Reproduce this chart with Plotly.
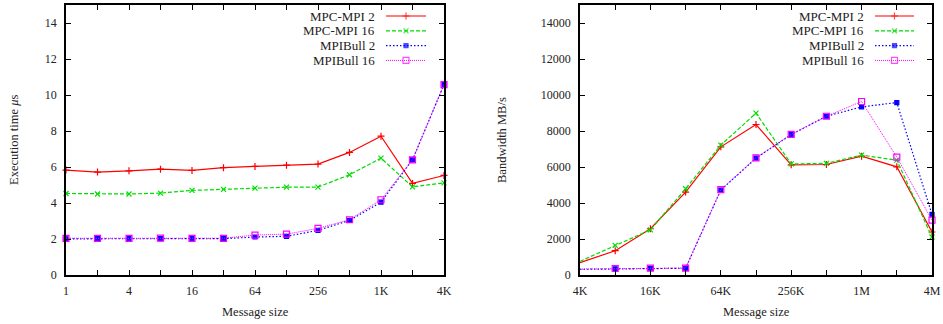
import plotly.graph_objects as go

# ---------------- data ----------------
sizes_small = [1, 2, 4, 8, 16, 32, 64, 128, 256, 512, 1024, 2048, 4096]
small_ticktext = ["1", "", "4", "", "16", "", "64", "", "256", "", "1K", "", "4K"]
time_ticks = [0, 2, 4, 6, 8, 10, 12, 14]
mpc2_time = [5.83, 5.72, 5.79, 5.88, 5.81, 5.96, 6.03, 6.10, 6.16, 6.81, 7.71, 5.09, 5.53]
mpc16_time = [4.53, 4.50, 4.50, 4.55, 4.70, 4.76, 4.83, 4.88, 4.88, 5.57, 6.49, 4.90, 5.12]
bull2_time = [2.01, 2.02, 2.02, 2.02, 2.02, 2.02, 2.11, 2.15, 2.48, 3.03, 4.05, 6.40, 10.58]
bull16_time = [2.04, 2.04, 2.04, 2.05, 2.04, 2.04, 2.22, 2.27, 2.59, 3.07, 4.18, 6.40, 10.58]

sizes_large = [4096, 8192, 16384, 32768, 65536, 131072, 262144, 524288,
               1048576, 2097152, 4194304]
large_ticktext = ["4K", "", "16K", "", "64K", "", "256K", "", "1M", "", "4M"]
bw_ticks = [0, 2000, 4000, 6000, 8000, 10000, 12000, 14000]
mpc2_bw = [683, 1350, 2570, 4606, 7120, 8360, 6121, 6140, 6600, 6010, 2390]
mpc16_bw = [760, 1650, 2510, 4790, 7214, 8990, 6170, 6200, 6660, 6380, 2110]
bull2_bw = [315, 340, 375, 375, 4720, 6490, 7800, 8820, 9340, 9580, 3370]
bull16_bw = [330, 360, 380, 385, 4740, 6510, 7810, 8820, 9640, 6550, 3050]

series_names = ["MPC-MPI 2", "MPC-MPI 16", "MPIBull 2", "MPIBull 16"]

# ---------------- styles ----------------
W, H = 943, 324
FONT = "Liberation Serif"
styles = [
    dict(color="#ff0000", dash="solid", symbol="cross-thin", size=5, lw=1.2),
    dict(color="#00dd00", dash="4px,2px", symbol="x-thin", size=5, lw=1.2),
    dict(color="#0000ff", dash="1.5px,2px", symbol="square", size=4, lw=1.2),
    dict(color="#ff00ff", dash="1px,1px", symbol="square-open", size=6, lw=1.0),
]

fig = go.Figure()

def add_series(x, ys, xa, ya):
    for y, st, name in zip(ys, styles, series_names):
        fig.add_trace(go.Scatter(
            x=x, y=y, mode="lines+markers", name=name, showlegend=False,
            xaxis=xa, yaxis=ya, cliponaxis=False,
            line=dict(color=st["color"], dash=st["dash"], width=st["lw"]),
            marker=dict(symbol=st["symbol"], size=st["size"], color=st["color"],
                        line=dict(color=st["color"], width=1.2)),
        ))

add_series(sizes_small, [mpc2_time, mpc16_time, bull2_time, bull16_time], "x", "y")
add_series(sizes_large, [mpc2_bw, mpc16_bw, bull2_bw, bull16_bw], "x2", "y2")

# plot boxes in pixels
L1, R1 = 66, 444
L2, R2 = 580, 932
TOP, BOT = 5, 275
ydom = [1 - BOT / H, 1 - TOP / H]

axis_common = dict(
    showline=True, linecolor="black", linewidth=1.5, mirror="ticks",
    ticks="inside", ticklen=5, tickcolor="black", tickwidth=1,
    showgrid=False, zeroline=False, automargin=False,
    tickfont=dict(family=FONT, size=12, color="#222"),
)

fig.update_layout(
    width=W, height=H,
    margin=dict(l=0, r=0, t=0, b=0, pad=0),
    paper_bgcolor="white", plot_bgcolor="rgba(0,0,0,0)",
    font=dict(family=FONT, size=12, color="#222"),
    xaxis=dict(axis_common, type="log", domain=[L1 / W, R1 / W],
               range=[0, 3.6124], tickvals=sizes_small, ticktext=small_ticktext,
               anchor="y", ticklabelstandoff=4),
    yaxis=dict(axis_common, domain=ydom, range=[0, 15],
               tickvals=time_ticks, ticktext=[str(v) for v in time_ticks],
               anchor="x", ticklabelstandoff=5),
    xaxis2=dict(axis_common, type="log", domain=[L2 / W, R2 / W],
                range=[3.6124, 6.6227], tickvals=sizes_large, ticktext=large_ticktext,
                anchor="y2", ticklabelstandoff=4),
    yaxis2=dict(axis_common, domain=ydom, range=[0, 15000],
                tickvals=bw_ticks, ticktext=[str(v) for v in bw_ticks],
                anchor="x2", ticklabelstandoff=5),
    xaxis3=dict(domain=[0, 1], range=[0, 1], visible=False, anchor="y3"),
    yaxis3=dict(domain=[0, 1], range=[0, 1], visible=False, anchor="x3"),
)

# axis titles
ann = []
for cx in [(L1 + R1) / 2, (L2 + R2) / 2]:
    ann.append(dict(text="Message size", x=cx / W, y=1 - 312 / H, xref="paper",
                    yref="paper", xanchor="center", yanchor="middle", showarrow=False,
                    font=dict(family=FONT, size=12.5)))
ann.append(dict(text="Execution time <i>μ</i>s", x=14 / W, y=1 - 140 / H, xref="paper",
                yref="paper", xanchor="center", yanchor="middle", showarrow=False,
                textangle=-90, font=dict(family=FONT, size=12.5)))
ann.append(dict(text="Bandwidth MB/s", x=502 / W, y=1 - 140 / H, xref="paper",
                yref="paper", xanchor="center", yanchor="middle", showarrow=False,
                textangle=-90, font=dict(family=FONT, size=12.5)))

# custom gnuplot-style legends (text left of sample)
legend_specs = [(377, 386, 426), (866, 875, 914)]
for text_r, s0, s1 in legend_specs:
    for i, (name, st) in enumerate(zip(series_names, styles)):
        ypx = 16 + 14.8 * i
        yp = 1 - ypx / H
        ann.append(dict(text=name, x=text_r / W, y=yp, xref="paper", yref="paper",
                        xanchor="right", yanchor="middle", showarrow=False,
                        font=dict(family=FONT, size=13, color="#222")))
        fig.add_trace(go.Scatter(
            x=[s0 / W, (s0 + s1) / 2 / W, s1 / W], y=[yp, yp, yp],
            xaxis="x3", yaxis="y3", mode="lines+markers", showlegend=False,
            hoverinfo="skip",
            line=dict(color=st["color"], dash=st["dash"], width=st["lw"]),
            marker=dict(symbol=st["symbol"], size=[0, st["size"], 0], color=st["color"],
                        line=dict(color=st["color"], width=1.2)),
        ))

fig.update_layout(annotations=ann)
fig.write_html("out.html", config={"displayModeBar": False},
               post_script="document.body.style.margin='0px';document.body.style.overflow='hidden';")
